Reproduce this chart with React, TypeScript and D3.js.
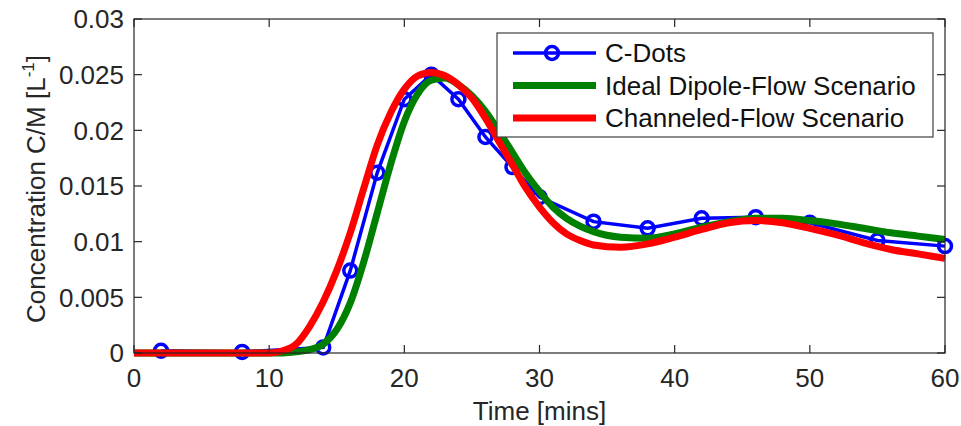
import { useEffect, useRef } from 'react';
import * as d3 from 'd3';

// C-Dots measurements
const dotTimes = [2, 8, 14, 16, 18, 20, 22, 24, 26, 28, 30, 34, 38, 42, 46, 50, 55, 60];
const dotValues = [0.0002, 0.0001, 0.0005, 0.0074, 0.0162, 0.0228, 0.025, 0.0228, 0.0194, 0.0167, 0.014, 0.0118, 0.0112, 0.0121, 0.0122, 0.0117, 0.0101, 0.0096];

// model curves, sampled
const modelTimes = [0, 5, 10, 11, 12, 13, 14, 15, 16, 17, 18, 19, 20, 21, 22, 23, 24, 25, 26, 27, 28, 29, 30, 31, 32, 33, 34, 36, 38, 40, 42, 44, 46, 48, 50, 52, 54, 56, 58, 60];
const idealValues = [0, 0, 0, 0, 0.0001, 0.0003, 0.0008, 0.0021, 0.0045, 0.0082, 0.0126, 0.017, 0.0208, 0.0233, 0.0245, 0.0247, 0.0241, 0.0231, 0.0217, 0.0199, 0.018, 0.0161, 0.0145, 0.0131, 0.0121, 0.0114, 0.0109, 0.0104, 0.0103, 0.0107, 0.0113, 0.0118, 0.0121, 0.0121, 0.0119, 0.0116, 0.0112, 0.0108, 0.0105, 0.0102];
const channeledValues = [0, 0, 0, 0.0002, 0.0008, 0.0024, 0.0046, 0.0074, 0.0108, 0.0148, 0.0187, 0.0216, 0.0237, 0.0249, 0.0252, 0.0249, 0.0241, 0.0229, 0.0211, 0.019, 0.0169, 0.0148, 0.0131, 0.0117, 0.0107, 0.0101, 0.0097, 0.0095, 0.0098, 0.0104, 0.0111, 0.0117, 0.0119, 0.0117, 0.0112, 0.0106, 0.0099, 0.0093, 0.0089, 0.0085];

const xTicks = [0, 10, 20, 30, 40, 50, 60];
const yTicks = [0, 0.005, 0.01, 0.015, 0.02, 0.025, 0.03];
const yTickLabels = ['0', '0.005', '0.01', '0.015', '0.02', '0.025', '0.03'];
const legendNames = ['C-Dots', 'Ideal Dipole-Flow Scenario', 'Channeled-Flow Scenario'];

export default function App() {
  const svgRef = useRef<SVGSVGElement>(null);

  useEffect(() => {
    if (!svgRef.current) return;
    d3.select(svgRef.current).selectAll('*').remove();

    const W = 961, H = 426;
    const margin = { top: 19, right: 16, bottom: 73, left: 134 };
    const width = W - margin.left - margin.right;
    const height = H - margin.top - margin.bottom;
    const font = 'Liberation Sans, Arial, sans-serif';
    const fs = 26;
    const axisColor = '#262626';

    const svg = d3.select(svgRef.current)
      .attr('width', W)
      .attr('height', H)
      .style('background', '#fff');

    const g = svg.append('g')
      .attr('transform', `translate(${margin.left},${margin.top})`);

    const x = d3.scaleLinear().domain([0, 60]).range([0, width]);
    const y = d3.scaleLinear().domain([0, 0.03]).range([height, 0]);

    // series
    const dots = dotTimes.map((t, i) => ({ t, v: dotValues[i] }));
    const ideal = modelTimes.map((t, i) => ({ t, v: idealValues[i] }));
    const channeled = modelTimes.map((t, i) => ({ t, v: channeledValues[i] }));

    const lineLinear = d3.line<{ t: number; v: number }>()
      .x(d => x(d.t)).y(d => y(d.v));
    const lineSmooth = d3.line<{ t: number; v: number }>()
      .x(d => x(d.t)).y(d => y(d.v))
      .curve(d3.curveMonotoneX);

    const plot = g.append('g');

    plot.append('path')
      .datum(dots)
      .attr('d', lineLinear)
      .attr('fill', 'none')
      .attr('stroke', '#0000ff')
      .attr('stroke-width', 3.5);

    plot.selectAll('.dot')
      .data(dots)
      .enter()
      .append('circle')
      .attr('class', 'dot')
      .attr('cx', d => x(d.t))
      .attr('cy', d => y(d.v))
      .attr('r', 6.5)
      .attr('fill', 'none')
      .attr('stroke', '#0000ff')
      .attr('stroke-width', 3.5);

    plot.append('path')
      .datum(ideal)
      .attr('d', lineSmooth)
      .attr('fill', 'none')
      .attr('stroke', '#008000')
      .attr('stroke-width', 7)
      .attr('stroke-linejoin', 'round');

    plot.append('path')
      .datum(channeled)
      .attr('d', lineSmooth)
      .attr('fill', 'none')
      .attr('stroke', '#ff0000')
      .attr('stroke-width', 7)
      .attr('stroke-linejoin', 'round');

    // box + ticks (inward, all four sides)
    g.append('rect')
      .attr('x', 0).attr('y', 0)
      .attr('width', width).attr('height', height)
      .attr('fill', 'none')
      .attr('stroke', axisColor)
      .attr('stroke-width', 1.2);

    const tl = 8;
    xTicks.forEach(t => {
      g.append('line').attr('x1', x(t)).attr('x2', x(t)).attr('y1', height).attr('y2', height - tl)
        .attr('stroke', axisColor).attr('stroke-width', 1.2);
      g.append('line').attr('x1', x(t)).attr('x2', x(t)).attr('y1', 0).attr('y2', tl)
        .attr('stroke', axisColor).attr('stroke-width', 1.2);
    });
    yTicks.forEach(v => {
      g.append('line').attr('x1', 0).attr('x2', tl).attr('y1', y(v)).attr('y2', y(v))
        .attr('stroke', axisColor).attr('stroke-width', 1.2);
      g.append('line').attr('x1', width).attr('x2', width - tl).attr('y1', y(v)).attr('y2', y(v))
        .attr('stroke', axisColor).attr('stroke-width', 1.2);
    });

    // tick labels
    g.selectAll('.xlab')
      .data(xTicks)
      .enter()
      .append('text')
      .attr('x', d => x(d))
      .attr('y', height + 34)
      .attr('text-anchor', 'middle')
      .attr('font-family', font)
      .attr('font-size', fs)
      .attr('fill', axisColor)
      .text(d => d);

    g.selectAll('.ylab')
      .data(yTicks)
      .enter()
      .append('text')
      .attr('x', -10)
      .attr('y', d => y(d) + 9.3)
      .attr('text-anchor', 'end')
      .attr('font-family', font)
      .attr('font-size', fs)
      .attr('fill', axisColor)
      .text((d, i) => yTickLabels[i]);

    // axis titles
    svg.append('text')
      .attr('x', margin.left + width / 2)
      .attr('y', 420)
      .attr('text-anchor', 'middle')
      .attr('font-family', font)
      .attr('font-size', fs)
      .attr('fill', axisColor)
      .text('Time [mins]');

    const yt = svg.append('text')
      .attr('transform', `translate(45,${margin.top + height / 2 + 3}) rotate(-90)`)
      .attr('text-anchor', 'middle')
      .attr('font-family', font)
      .attr('font-size', fs)
      .attr('fill', axisColor);
    yt.append('tspan').text('Concentration C/M [L');
    yt.append('tspan').attr('dy', -11).attr('font-size', 17).text('-1');
    yt.append('tspan').attr('dy', 11).text(']');

    // legend
    const lg = svg.append('g').attr('transform', 'translate(497,33)');
    lg.append('rect')
      .attr('width', 436).attr('height', 104)
      .attr('fill', '#fff')
      .attr('stroke', '#404040')
      .attr('stroke-width', 1.2);

    const legendColors = ['#0000ff', '#008000', '#ff0000'];
    const legendWidths = [3.5, 7, 7];
    legendNames.forEach((name, i) => {
      const cy = 20 + i * 32.5;
      lg.append('line')
        .attr('x1', 16).attr('x2', 99)
        .attr('y1', cy).attr('y2', cy)
        .attr('stroke', legendColors[i])
        .attr('stroke-width', legendWidths[i]);
      if (i === 0) {
        lg.append('circle')
          .attr('cx', 55).attr('cy', cy).attr('r', 6.5)
          .attr('fill', 'none')
          .attr('stroke', '#0000ff')
          .attr('stroke-width', 3.5);
      }
      lg.append('text')
        .attr('x', 108)
        .attr('y', cy + 9.3)
        .attr('font-family', font)
        .attr('font-size', fs)
        .attr('fill', '#111')
        .text(name);
    });
  }, []);

  return (
    <div style={{ position: 'absolute', left: 0, top: 0 }}>
      <svg ref={svgRef} style={{ display: 'block' }} />
    </div>
  );
}
